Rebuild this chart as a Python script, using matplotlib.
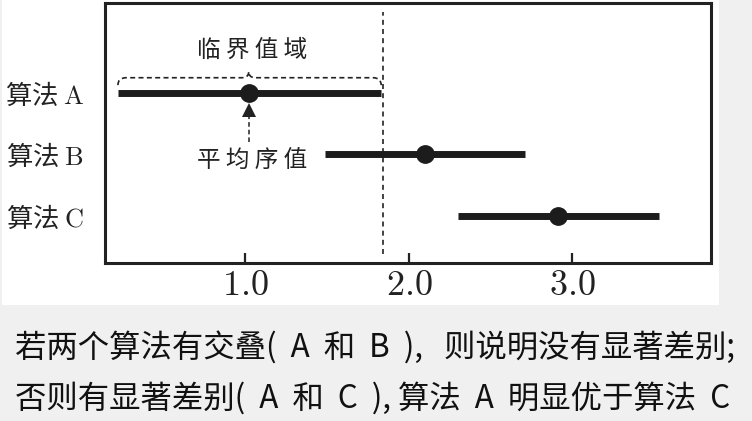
import matplotlib
matplotlib.use('Agg')
import matplotlib.pyplot as plt
from matplotlib.patches import Rectangle, PathPatch
from matplotlib.path import Path

plt.rcParams['font.family'] = ['Noto Sans CJK SC', 'DejaVu Sans']
plt.rcParams['mathtext.fontset'] = 'cm'

# ---------------- data ----------------
algorithms = ['A', 'B', 'C']
mean_ranks = [1.02, 2.10, 2.91]
lower_bounds = [0.22, 1.485, 2.30]
upper_bounds = [1.83, 2.71, 3.53]
critical_value = 1.84
xticks = [1.0, 2.0, 3.0]
xtick_labels = ['1.0', '2.0', '3.0']
bracket_label = '临 界 值 域'
arrow_label = '平 均 序 值'
note_lines = ['若两个算法有交叠(  A  和  B  ),   则说明没有显著差别;',
              '否则有显著差别(  A  和  C  ), 算法  A  明显优于算法  C']

ink = '#1c1c1c'

fig = plt.figure(figsize=(7.52, 4.21), dpi=100, facecolor='#f0f0f0')
fig.patches.append(Rectangle((2 / 752, 116 / 421), 717 / 752, 305 / 421,
                             transform=fig.transFigure, facecolor='white',
                             edgecolor='none', zorder=-10))

ax = fig.add_axes([105 / 752, 158 / 421, 606 / 752, 260 / 421])
ypos = list(range(len(algorithms), 0, -1))

ax.hlines(ypos, lower_bounds, upper_bounds, colors=ink, lw=5, capstyle='butt', zorder=3)
ax.plot(mean_ranks, ypos, 'o', color=ink, ms=12.5, zorder=4)
ax.axvline(critical_value, ymin=0.035, ymax=0.965, color='#222222', lw=1.2,
           ls=(0, (3, 2.5)), zorder=2)

ax.set_xlim(0.141, 3.847)
ax.set_ylim(0.24, 4.45)

ax.set_yticks(ypos, ['算法 $\\mathrm{%s}$' % a for a in algorithms])
ax.set_xticks(xticks, ['$%s$' % t for t in xtick_labels])
ax.tick_params(axis='x', direction='in', length=7, width=1.6, pad=3,
               labelsize=26, colors='#222222')
ax.tick_params(axis='y', length=0, pad=15, labelsize=19, colors='#222222')
for s in ax.spines.values():
    s.set_linewidth(2.2)
    s.set_color('#222222')

# brace over algorithm A interval
m = mean_ranks[0]
x0, x1 = lower_bounds[0], upper_bounds[0]
y_top, y_end, y_peak = 3.24, 3.12, 3.34
r, d = 0.05, 0.04
verts = [(x0, y_end), (x0, y_top), (x0 + r, y_top),
         (m - d, y_top),
         (m, y_top), (m, y_peak),
         (m, y_top), (m + d, y_top),
         (x1 - r, y_top),
         (x1, y_top), (x1, y_end)]
codes = [Path.MOVETO, Path.CURVE3, Path.CURVE3, Path.LINETO,
         Path.CURVE3, Path.CURVE3, Path.CURVE3, Path.CURVE3,
         Path.LINETO, Path.CURVE3, Path.CURVE3]
ax.add_patch(PathPatch(Path(verts, codes), fill=False, edgecolor='#222222',
                       lw=1.2, ls=(0, (3, 2))))
ax.text(m + 0.02, 3.69, bracket_label, ha='center', va='center', fontsize=17, color='#222222')

# arrow to mean rank of A
ax.plot([m, m], [2.20, 2.64], color='#222222', lw=1.1, ls=(0, (3, 2)))
ax.plot([m], [2.71], marker='^', color='#222222', ms=10, mew=0)
ax.text(m + 0.02, 1.88, arrow_label, ha='center', va='center', fontsize=17, color='#222222')

for i, line in enumerate(note_lines):
    fig.text(15 / 752, 1 - (347 + 51 * i) / 421, line, ha='left', va='center',
             fontsize=22.6, color='#111111')

fig.savefig('out.png', dpi=100, facecolor=fig.get_facecolor())
